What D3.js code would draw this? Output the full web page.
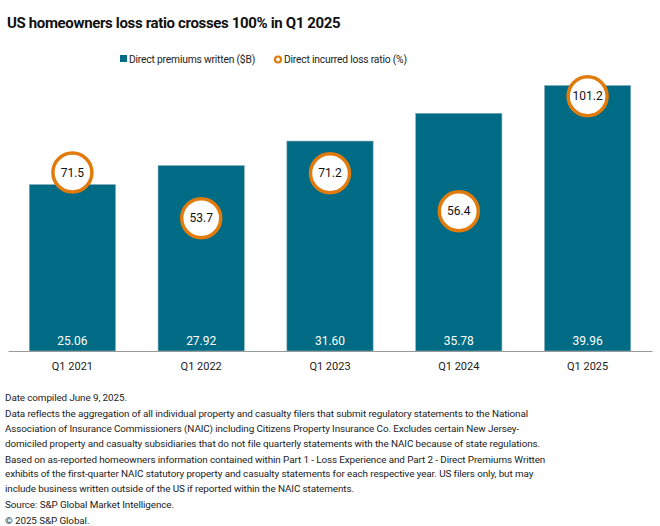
<!DOCTYPE html>
<html>
<head>
<meta charset="utf-8">
<script src="https://cdn.jsdelivr.net/npm/d3@7"></script>
<style>
  body { margin: 0; background: #fff; }
  text { font-family: Roboto, "Liberation Sans", sans-serif; }
</style>
</head>
<body>
<div id="chart"></div>
<script>
// data
var quarters = ["Q1 2021", "Q1 2022", "Q1 2023", "Q1 2024", "Q1 2025"];
var premiums = [25.06, 27.92, 31.60, 35.78, 39.96];
var lossRatio = [71.5, 53.7, 71.2, 56.4, 101.2];
var footnotes = [
  ["Date compiled June 9, 2025."],
  ["Data reflects the aggregation of all individual property and casualty filers that submit regulatory statements to the National",
   "Association of Insurance Commissioners (NAIC) including Citizens Property Insurance Co. Excludes certain New Jersey-",
   "domiciled property and casualty subsidiaries that do not file quarterly statements with the NAIC because of state regulations."],
  ["Based on as-reported homeowners information contained within Part 1 - Loss Experience and Part 2 - Direct Premiums Written",
   "exhibits of the first-quarter NAIC statutory property and casualty statements for each respective year. US filers only, but may",
   "include business written outside of the US if reported within the NAIC statements."],
  ["Source: S&P Global Market Intelligence."],
  ["\u00A9 2025 S&P Global."]
];

var W = 660, H = 526;
var barColor = "#006b85", ringColor = "#e07b0c";

var svg = d3.select("#chart").append("svg")
    .attr("width", W)
    .attr("height", H);

// title
svg.append("text")
    .attr("x", 7)
    .attr("y", 28)
    .style("font-size", "15px")
    .style("font-weight", "bold")
    .style("letter-spacing", "-0.35px")
    .style("fill", "#111")
    .text("US homeowners loss ratio crosses 100% in Q1 2025");

// legend
var leg = svg.append("g").style("font-size", "10.3px").style("letter-spacing", "-0.2px").style("fill", "#222");
leg.append("rect").attr("x", 120).attr("y", 55).attr("width", 7).attr("height", 7).attr("fill", barColor);
leg.append("text").attr("x", 129).attr("y", 63).text("Direct premiums written ($B)");
leg.append("circle").attr("cx", 278).attr("cy", 59.5).attr("r", 3).attr("fill", "#fff")
    .attr("stroke", ringColor).attr("stroke-width", 2.2);
leg.append("text").attr("x", 284).attr("y", 63).text("Direct incurred loss ratio (%)");

// scales
var xScale = d3.scaleBand()
    .domain(quarters)
    .range([8, 652])
    .paddingInner(0.33)
    .paddingOuter(0.165);

var yScale = d3.scaleLinear()
    .domain([0, 45])
    .range([351, 52]);

// loss ratio on its own scale
var y2Scale = d3.scaleLinear()
    .domain([0, 120])
    .range([356, 48]);

// bars
svg.selectAll("rect.bar")
    .data(premiums)
    .enter()
    .append("rect")
    .attr("class", "bar")
    .attr("x", function(d, i) { return xScale(quarters[i]); })
    .attr("y", function(d) { return yScale(d); })
    .attr("width", xScale.bandwidth())
    .attr("height", function(d) { return yScale(0) - yScale(d); })
    .attr("fill", barColor)
    .attr("stroke", "#8fb2bd")
    .attr("stroke-width", 0.6);

svg.selectAll("text.barlabel")
    .data(premiums)
    .enter()
    .append("text")
    .attr("class", "barlabel")
    .attr("x", function(d, i) { return xScale(quarters[i]) + xScale.bandwidth() / 2; })
    .attr("y", 345)
    .attr("text-anchor", "middle")
    .style("font-size", "12px")
    .style("fill", "#fff")
    .text(function(d) { return d.toFixed(2); });

// x axis
var xAxis = svg.append("g")
    .attr("transform", "translate(0,351)")
    .call(d3.axisBottom(xScale).tickSize(0).tickPadding(11));
xAxis.select(".domain").attr("stroke", "#999").attr("stroke-width", 1.2);
xAxis.selectAll("text")
    .style("font-size", "11px")
    .style("font-family", "Roboto, 'Liberation Sans', sans-serif")
    .style("fill", "#222");

// loss ratio circles
var pts = svg.selectAll("g.pt")
    .data(lossRatio)
    .enter()
    .append("g")
    .attr("class", "pt")
    .attr("transform", function(d, i) {
        return "translate(" + (xScale(quarters[i]) + xScale.bandwidth() / 2) + "," + y2Scale(d) + ")";
    });
pts.append("circle")
    .attr("r", 19.5)
    .attr("fill", "#fff")
    .attr("stroke", ringColor)
    .attr("stroke-width", 3.5);
pts.append("text")
    .attr("text-anchor", "middle")
    .attr("dy", "0.35em")
    .style("font-size", "12px")
    .style("fill", "#111")
    .text(function(d) { return d.toFixed(1); });

// footnotes
var fy = 401;
var foot = svg.append("g").style("font-size", "9.9px").style("letter-spacing", "-0.1px").style("fill", "#222");
footnotes.forEach(function(par) {
    par.forEach(function(line) {
        foot.append("text").attr("x", 5).attr("y", fy).text(line);
        fy += 14.8;
    });
    fy += 1.2;
});
</script>
</body>
</html>
